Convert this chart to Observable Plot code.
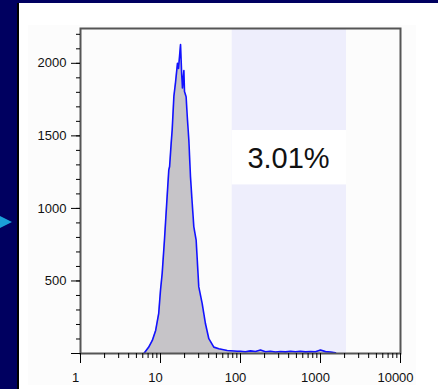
<!DOCTYPE html>
<html>
<head>
<meta charset="utf-8">
<script src="https://cdn.jsdelivr.net/npm/d3@7"></script>
<script src="https://cdn.jsdelivr.net/npm/@observablehq/plot@0.6"></script>
<style>
  html, body { margin: 0; padding: 0; }
  body {
    width: 438px; height: 389px; background: #000060;
    position: relative; overflow: hidden;
    font-family: "Liberation Sans", Arial, sans-serif;
  }
  #sheet {
    position: absolute; left: 17px; top: 3px; right: 0; bottom: 0;
    background: #ffffff; border-left: 2px solid #000;
  }
  #panel { position: absolute; left: 9px; top: 22px; }
  #marker {
    position: absolute; left: 0; top: 216px; width: 0; height: 0;
    border-top: 6px solid transparent; border-bottom: 6px solid transparent;
    border-left: 12px solid #1a9fd8;
  }
</style>
</head>
<body>
<div id="marker"></div>
<div id="sheet"><div id="panel"></div></div>
<script>
// Fluorescence intensity (log scale) and event counts per channel
const intensity = [6.2, 7.1, 7.9, 8.7, 9.5, 10, 10.5, 11.2, 12.1, 12.7, 13.0, 13.6, 14.0, 14.7,
  15.4, 16.3, 16.8, 17.8, 18.4, 18.8, 19.6, 19.95, 20.9, 21.6, 22.6, 23.7, 24.9, 26.1, 27.9,
  30.1, 33.2, 36.5, 40.2, 46.4, 53.6, 68.2, 90.9,
  100, 115, 133, 154, 178, 205, 237, 274, 316, 365, 422, 487, 562, 649, 750, 866, 1000, 1155, 1334, 1540];
const events = [0, 43, 90, 159, 277, 436, 553, 781, 1081, 1266, 1289, 1450, 1542, 1773,
  1867, 2000, 1965, 2130, 1923, 1830, 1950, 1805, 1770, 1634, 1473, 1219, 1037, 873, 781,
  459, 344, 205, 102, 44, 33, 21, 16,
  15, 12, 18, 14, 24, 12, 16, 10, 14, 11, 15, 12, 16, 11, 14, 12, 24, 13, 10, 5];

// Positive gate and its percentage
const gateRange = [78.7, 2113];
const gateLabel = "3.01%";
const gateLabelBand = [1162, 1537];
const gateLabelPos = [398, 1340];

// Axis ticks
const xMajor = [1, 10, 100, 1000, 10000];
const xMinor = [1, 10, 100, 1000].flatMap(d => [2, 3, 4, 5, 6, 7, 8, 9].map(k => k * d));
const yMajor = [0, 500, 1000, 1500, 2000];
const yMinor = d3.range(0, 2201, 100);

const hist = intensity.map((v, i) => ({v, n: events[i]}));
const gate = [{lo: gateRange[0], hi: gateRange[1], b0: gateLabelBand[0], b1: gateLabelBand[1],
  tx: gateLabelPos[0], ty: gateLabelPos[1], label: gateLabel}];

const chart = Plot.plot({
  width: 388, height: 360,
  marginLeft: 52, marginRight: 16, marginTop: 3, marginBottom: 32,
  style: {background: "#fcfcfc", fontSize: "13px", fontFamily: "'Liberation Sans', Arial, sans-serif", color: "#111"},
  x: {type: "log", domain: [1, 10000], axis: null},
  y: {domain: [0, 2240], axis: null},
  marks: [
    Plot.rect(gate, {x1: "lo", x2: "hi", fill: "#eeeefc"}),
    Plot.rect(gate, {x1: "lo", x2: "hi", y1: "b0", y2: "b1", fill: "#ffffff"}),
    Plot.areaY(hist, {x: "v", y: "n", fill: "#c6c4c8"}),
    Plot.lineY(hist, {x: "v", y: "n", stroke: "#1212ff", strokeWidth: 1.6}),
    Plot.text(gate, {x: "tx", y: "ty", text: "label", fontSize: 29, fill: "#111"}),
    Plot.frame({stroke: "#555", strokeWidth: 2}),
    Plot.axisY({ticks: yMajor, tickSize: 9, tickPadding: 5, tickFormat: d => d === 0 ? "" : String(d), label: null, stroke: "#000"}),
    Plot.axisY({ticks: yMinor, tickSize: 4, tickFormat: () => "", label: null, stroke: "#000"}),
    Plot.axisX({ticks: xMajor, tickSize: 10, tickFormat: () => "", label: null, stroke: "#000"}),
    Plot.axisX({ticks: xMinor, tickSize: 5, tickFormat: () => "", label: null, stroke: "#000"}),
    Plot.axisX({ticks: xMajor, tickSize: 0, tickPadding: 19, dx: -5, tickFormat: d => String(d), label: null})
  ]
});
document.getElementById("panel").append(chart);
</script>
</body>
</html>
